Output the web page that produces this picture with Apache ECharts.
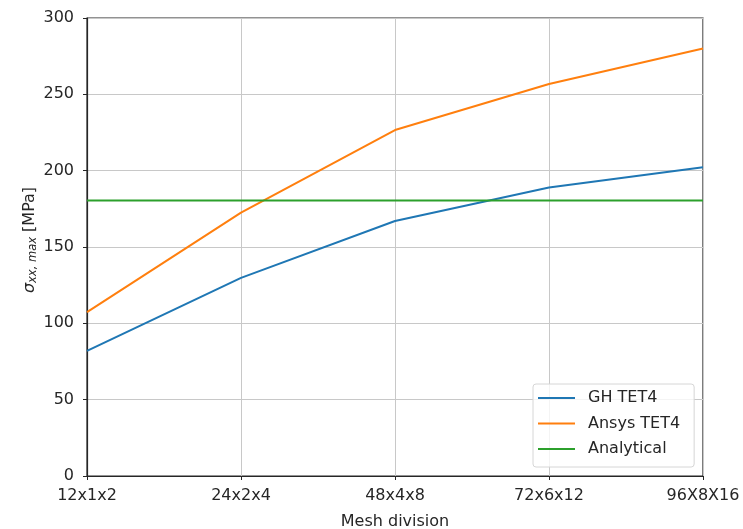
<!DOCTYPE html>
<html>
<head>
<meta charset="utf-8">
<script src="https://cdn.jsdelivr.net/npm/echarts@6/dist/echarts.min.js"></script>
<style>html,body{margin:0;padding:0;background:#fff}#c{width:743px;height:529px}</style>
</head>
<body>
<div id="c"></div>
<script>
const categories = ['12x1x2', '24x2x4', '48x4x8', '72x6x12', '96X8X16'];
const ghTet4 = [81.9, 129.8, 167.0, 189.0, 202.2];
const ansysTet4 = [107.3, 172.5, 226.6, 256.8, 280.0];
const analytical = [180.5, 180.5, 180.5, 180.5, 180.5];
const yTicks = [0, 50, 100, 150, 200, 250, 300];

const font = 'DejaVu Sans';
const fs = 16;
const txt = '#262626';
const chart = echarts.init(document.getElementById('c'), null, {renderer: 'canvas'});
chart.setOption({
  animation: false,
  backgroundColor: '#fff',
  grid: {left: 87, right: 40, top: 18, bottom: 53, show: true, containLabel: false, outerBoundsMode: 'none', borderColor: '#262626', borderWidth: 1.2, backgroundColor: 'transparent'},
  xAxis: {
    type: 'category', data: categories, boundaryGap: false,
    name: 'Mesh division', nameLocation: 'middle', nameGap: 38, nameMoveOverlap: false,
    nameTextStyle: {fontFamily: font, fontSize: fs, color: txt},
    axisLine: {show: true, lineStyle: {color: '#262626', width: 1.2}},
    axisTick: {show: true, alignWithLabel: true, length: 4, lineStyle: {color: '#262626'}},
    axisLabel: {fontFamily: font, fontSize: fs, color: txt, margin: 12, interval: 0},
    splitLine: {show: true, interval: 0, lineStyle: {color: '#c8c8c8', width: 1}}
  },
  yAxis: {
    type: 'value', min: yTicks[0], max: yTicks[yTicks.length - 1], interval: 50,
    name: '{s|σ}{sub|xx, max}{n| [MPa]}', nameLocation: 'middle', nameGap: 48, nameMoveOverlap: false,
    nameTextStyle: {
      fontFamily: font, fontSize: fs, color: txt, padding: [0, 0, 0, 14],
      rich: {
        s: {fontFamily: font, fontSize: fs, fontStyle: 'italic', color: txt},
        sub: {fontFamily: font, fontSize: 11.5, fontStyle: 'italic', color: txt, verticalAlign: 'bottom', padding: [7, 0, 0, 0]},
        n: {fontFamily: font, fontSize: fs, color: txt}
      }
    },
    axisLine: {show: true, lineStyle: {color: '#262626', width: 1.2}},
    axisTick: {show: true, length: 4, lineStyle: {color: '#262626'}},
    axisLabel: {fontFamily: font, fontSize: fs, color: txt, margin: 13, padding: [4, 0, 0, 0]},
    splitLine: {show: true, lineStyle: {color: '#c8c8c8', width: 1}}
  },
  legend: {
    orient: 'vertical', left: 533, top: 384,
    icon: 'rect', itemWidth: 37, itemHeight: 2, itemGap: 9.5,
    padding: [6, 14, 10, 5],
    backgroundColor: 'rgba(255,255,255,0.8)', borderColor: '#d6d6d6', borderWidth: 1, borderRadius: 3,
    textStyle: {fontFamily: font, fontSize: fs, color: txt, padding: [0, 0, 0, 8], lineHeight: 16},
    data: ['GH TET4', 'Ansys TET4', 'Analytical']
  },
  series: [
    {name: 'GH TET4', type: 'line', data: ghTet4, symbol: 'none', lineStyle: {color: '#1f77b4', width: 2}, itemStyle: {color: '#1f77b4'}},
    {name: 'Ansys TET4', type: 'line', data: ansysTet4, symbol: 'none', lineStyle: {color: '#ff7f0e', width: 2}, itemStyle: {color: '#ff7f0e'}},
    {name: 'Analytical', type: 'line', data: analytical, symbol: 'none', lineStyle: {color: '#2ca02c', width: 2}, itemStyle: {color: '#2ca02c'}}
  ]
});
</script>
</body>
</html>
